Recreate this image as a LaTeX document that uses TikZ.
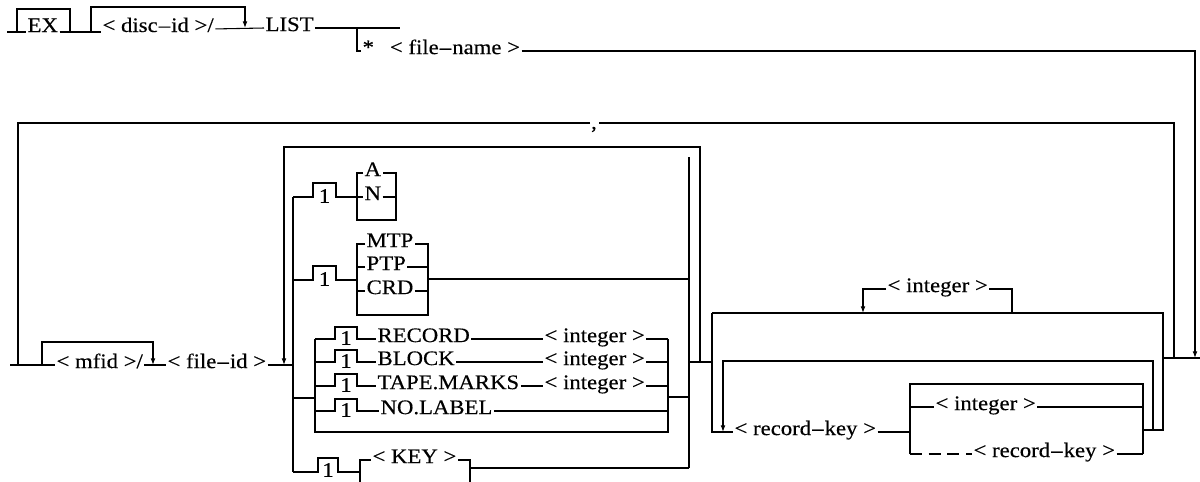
\documentclass[tikz,border=0pt]{standalone}
\usepackage{fontspec}
\setmainfont{Liberation Serif}[FakeStretch=1.1,FakeBold=0.35]
\usetikzlibrary{arrows.meta}
\tikzset{
  txt/.style={inner sep=0.8pt, anchor=mid west, font=\fontsize{15.5pt}{18pt}\selectfont},
  txtb/.style={txt, anchor=base west},
  onebox/.style={inner sep=0pt, anchor=center, font=\fontsize{15.5pt}{18pt}\selectfont},
  arr/.style={-{Latex[length=5pt,width=3.6pt]}},
  collector/.style={line width=1.3pt},
  dashline/.style={dash pattern=on 9pt off 5pt},
}
\newcommand{\dsh}{\kern0.8pt–\kern0.8pt}
\begin{document}
\begin{tikzpicture}[x=0.75pt,y=-0.75pt,line width=0.8pt]
\useasboundingbox (0,0) rectangle (1200,482);

% ---------- top row ----------
\node[txtb] (ex) at (26,32) {EX};
\node[txtb] (disc) at (101,32) {<\ disc\dsh id\ >/};
\node[txt] (list) at (264,28) {LIST};
\node[txt] (fn) at (361,51) {*\hspace{12pt}<\ file\dsh name\ >};
\draw (7,32) -- (ex.base west);
\draw (17,32) -- (17,9) -- (70,9) -- (70,32);
\draw (ex.base east) -- (disc.base west);
\draw[arr] (91,32) -- (91,7) -- (245,7) -- (245,28);
\draw (disc.mid east) -- (list.mid west);
\draw (list.mid east) -- (400,28);
\draw (357,28) -- (357,51) -- (fn.mid west);
\draw[arr] (fn.mid east) -- (1195,51) -- (1195,358);

% ---------- comma loop ----------
\node[inner sep=0.5pt, anchor=base, font=\fontsize{15.5pt}{18pt}\selectfont] (comma) at (594,129) {,};
\coordinate (cgL) at (590,123);
\coordinate (cgR) at (599,123);
\draw (1174,358) -- (1174,123) -- (cgR);
\draw (cgL) -- (18,123) -- (18,365);

% ---------- second row ----------
\node[txt] (mfid) at (55,365) {<\ mfid\ >/};
\node[txt] (fid) at (166,365) {<\ file\dsh id\ >};
\draw (10,365) -- (mfid.mid west);
\draw[arr] (42,365) -- (42,342) -- (153,342) -- (153,365);
\draw (mfid.mid east) -- (fid.mid west);
\draw (fid.mid east) -- (293,365);

% options box
\draw[arr] (700,362) -- (700,147) -- (284,147) -- (284,365);
\draw[collector] (689,157) -- (689,468);
\draw (293,197) -- (293,472);

% A / N
\node[onebox] (o1) at (324.5,196) {1};
\node[txt] (nA) at (363,173) {A};
\node[txt] (nN) at (363,197) {N};
\draw (293,197) -- (313,197) -- (313,183) -- (336,183) -- (336,197) -- (nN.mid west);
\draw (nA.mid west) -- (357,173) -- (357,220) -- (396,220) -- (396,173) -- (nA.mid east);
\draw (nN.mid east) -- (396,197);

% MTP / PTP / CRD
\node[onebox] (o2) at (324.5,279) {1};
\node[txt] (mtp) at (365,244) {MTP};
\node[txt] (ptp) at (365,267) {PTP};
\node[txt] (crd) at (365,291) {CRD};
\draw (293,280) -- (313,280) -- (313,266) -- (336,266) -- (336,280) -- (357,280);
\draw (mtp.mid west) -- (357,244) -- (357,315) -- (428,315) -- (428,244) -- (mtp.mid east);
\draw (357,267) -- (ptp.mid west);
\draw (ptp.mid east) -- (428,267);
\draw (357,291) -- (crd.mid west);
\draw (crd.mid east) -- (428,291);
\draw (428,279) -- (689,279);

% RECORD group
\node[onebox] (o3) at (346,338) {1};
\node[onebox] (o4) at (346,361) {1};
\node[onebox] (o5) at (346,385) {1};
\node[onebox] (o6) at (346,410) {1};
\node[txt] (rec) at (376,339) {RECORD};
\node[txt] (blk) at (376,362) {BLOCK};
\node[txt] (tape) at (376,386) {TAPE.MARKS};
\node[txt] (nol) at (379,411) {NO.LABEL};
\node[txt] (int1) at (543,339) {<\ integer\ >};
\node[txt] (int2) at (543,362) {<\ integer\ >};
\node[txt] (int3) at (543,386) {<\ integer\ >};
\draw (293,398) -- (315,398);
\draw (315,339) -- (315,432) -- (668,432) -- (668,339);
\draw (315,339) -- (335,339) -- (335,327) -- (357,327) -- (357,339) -- (rec.mid west);
\draw (315,362) -- (335,362) -- (335,350) -- (357,350) -- (357,362) -- (blk.mid west);
\draw (315,386) -- (335,386) -- (335,374) -- (357,374) -- (357,386) -- (tape.mid west);
\draw (315,411) -- (335,411) -- (335,399) -- (357,399) -- (357,411) -- (nol.mid west);
\draw (rec.mid east) -- (int1.mid west);
\draw (blk.mid east) -- (int2.mid west);
\draw (tape.mid east) -- (int3.mid west);
\draw (int1.mid east) -- (668,339);
\draw (int2.mid east) -- (668,362);
\draw (int3.mid east) -- (668,386);
\draw (nol.mid east) -- (668,411);
\draw (668,397) -- (689,397);

% KEY
\node[onebox] (o7) at (328,470) {1};
\node[txt] (key) at (371,460) {<\ KEY\ >};
\draw (293,472) -- (318,472) -- (318,458) -- (338,458) -- (338,472) -- (360,472);
\draw (360,486) -- (360,460) -- (key.mid west);
\draw (key.mid east) -- (470,460) -- (470,486);
\draw (470,468) -- (689,468);

% ---------- right part ----------
\node[txt] (int4) at (886,289) {<\ integer\ >};
\node[txt] (rk) at (733,432) {<\ record\dsh key\ >};
\node[txt] (int5) at (934,407) {<\ integer\ >};
\node[txt] (rk2) at (972,454) {<\ record\dsh key\ >};
\draw (689,362) -- (712,362);
\draw (712,313) -- (712,432) -- (rk.mid west);
\draw (712,313) -- (1163,313) -- (1163,430) -- (1143,430);
\draw (1012,313) -- (1012,289) -- (int4.mid east);
\draw[arr] (int4.mid west) -- (863,289) -- (863,313);
\draw[arr] (1153,430) -- (1153,361) -- (723,361) -- (723,432);
\draw (rk.mid east) -- (910,432);
\draw (910,454) -- (910,384) -- (1143,384) -- (1143,454);
\draw (910,407) -- (int5.mid west);
\draw (int5.mid east) -- (1143,407);
\draw[dashline] (910,454) -- (rk2.mid west);
\draw (rk2.mid east) -- (1143,454);
\draw (1163,358) -- (1200,358);
\end{tikzpicture}
\end{document}
